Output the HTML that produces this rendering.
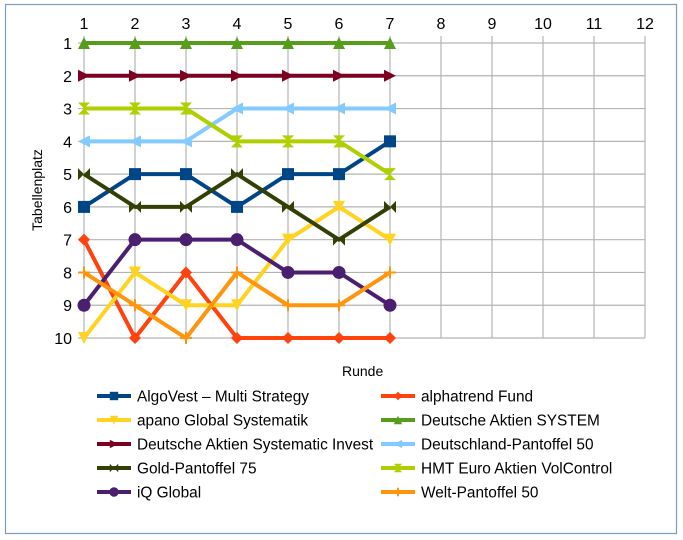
<!DOCTYPE html>
<html><head><meta charset="utf-8"><style>
html,body{margin:0;padding:0;background:#fff;}
svg{display:block;font-family:"Liberation Sans",sans-serif;}
</style></head><body>
<svg width="683" height="540" viewBox="0 0 683 540" xmlns="http://www.w3.org/2000/svg">
<rect x="0" y="0" width="683" height="540" fill="#fff"/>
<rect x="5.5" y="4.5" width="671" height="529" fill="none" stroke="#7f9db9" stroke-width="1.2"/>
<g id="grid" stroke="#b3b3b3" stroke-width="1.2"></g>
<g id="labels" font-size="16" fill="#000"></g>
<text x="342" y="376" font-size="14">Runde</text>
<text transform="translate(42,190) rotate(-90)" text-anchor="middle" font-size="14">Tabellenplatz</text>
<g id="series"></g>
<g id="legend" font-size="15.4"></g>
<script>
const NS="http://www.w3.org/2000/svg";
const X=r=>84+51*(r-1), Y=p=>43+32.78*(p-1);
function el(t,a,p){const e=document.createElementNS(NS,t);for(const k in a)e.setAttribute(k,a[k]);p.appendChild(e);return e;}
const g=document.getElementById('grid'),lab=document.getElementById('labels');
for(let r=1;r<=12;r++){el('line',{x1:X(r),x2:X(r),y1:36,y2:Y(10)},g);const t=el('text',{x:X(r),y:29,'text-anchor':'middle'},lab);t.textContent=r;}
for(let p=1;p<=10;p++){el('line',{x1:X(1)-6,x2:X(12),y1:Y(p),y2:Y(p)},g);const t=el('text',{x:X(1)-12,y:Y(p)+6,'text-anchor':'end'},lab);t.textContent=p;}
const S=[
["AlgoVest – Multi Strategy","#004586","sq",[6,5,5,6,5,5,4]],
["alphatrend Fund","#ff420e","dia",[7,10,8,10,10,10,10]],
["apano Global Systematik","#ffd320","down",[10,8,9,9,7,6,7]],
["Deutsche Aktien SYSTEM","#579d1c","up",[1,1,1,1,1,1,1]],
["Deutsche Aktien Systematic Invest","#7e0021","right",[2,2,2,2,2,2,2]],
["Deutschland-Pantoffel 50","#83caff","left",[4,4,4,3,3,3,3]],
["Gold-Pantoffel 75","#314004","bow",[5,6,6,5,6,7,6]],
["HMT Euro Aktien VolControl","#aecf00","hour",[3,3,3,4,4,4,5]],
["iQ Global","#4b1f6f","circ",[9,7,7,7,8,8,9]],
["Welt-Pantoffel 50","#ff950e","plus",[8,9,10,8,9,9,8]]];
function mk(type,x,y,c,s,p){s=s||1;const d=6*s;
 if(type=="sq")el('rect',{x:x-d,y:y-d,width:2*d,height:2*d,fill:c},p);
 else if(type=="circ")el('circle',{cx:x,cy:y,r:d+0.5,fill:c},p);
 else{let pts;
  if(type=="dia")pts=[[0,-d],[d,0],[0,d],[-d,0]];
  if(type=="down")pts=[[-d,-d],[d,-d],[0,d]];
  if(type=="up")pts=[[-d,d],[d,d],[0,-d]];
  if(type=="right")pts=[[-d,-d],[d,0],[-d,d]];
  if(type=="left")pts=[[d,-d],[-d,0],[d,d]];
  if(type=="bow")pts=[[-d,-d],[0,0],[d,-d],[d,d],[0,0],[-d,d]];
  if(type=="hour")pts=[[-d,-d],[d,-d],[0,0],[d,d],[-d,d],[0,0]];
  if(type=="plus"){el('path',{d:`M${x-d} ${y}H${x+d}M${x} ${y-d}V${y+d}`,stroke:c,'stroke-width':2},p);return;}
  el('polygon',{points:pts.map(q=>(x+q[0])+','+(y+q[1])).join(' '),fill:c},p);}
}
const sg=document.getElementById('series'),lg=document.getElementById('legend');
S.forEach((s,i)=>{
 el('polyline',{points:s[3].map((p,j)=>X(j+1)+','+Y(p)).join(' '),fill:'none',stroke:s[1],'stroke-width':4,'stroke-linejoin':'miter'},sg);
 s[3].forEach((p,j)=>mk(s[2],X(j+1),Y(p),s[1],1,sg));
 const col=i%2,row=Math.floor(i/2);const lx=col?381:97,ly=396+24*row;
 el('line',{x1:lx,x2:lx+34,y1:ly,y2:ly,stroke:s[1],'stroke-width':4},lg);
 mk(s[2],lx+17,ly,s[1],0.7,lg);
 const t=el('text',{x:lx+40,y:ly+5.5,fill:'#000'},lg);t.textContent=s[0];
});
</script>
</svg>
</body></html>
